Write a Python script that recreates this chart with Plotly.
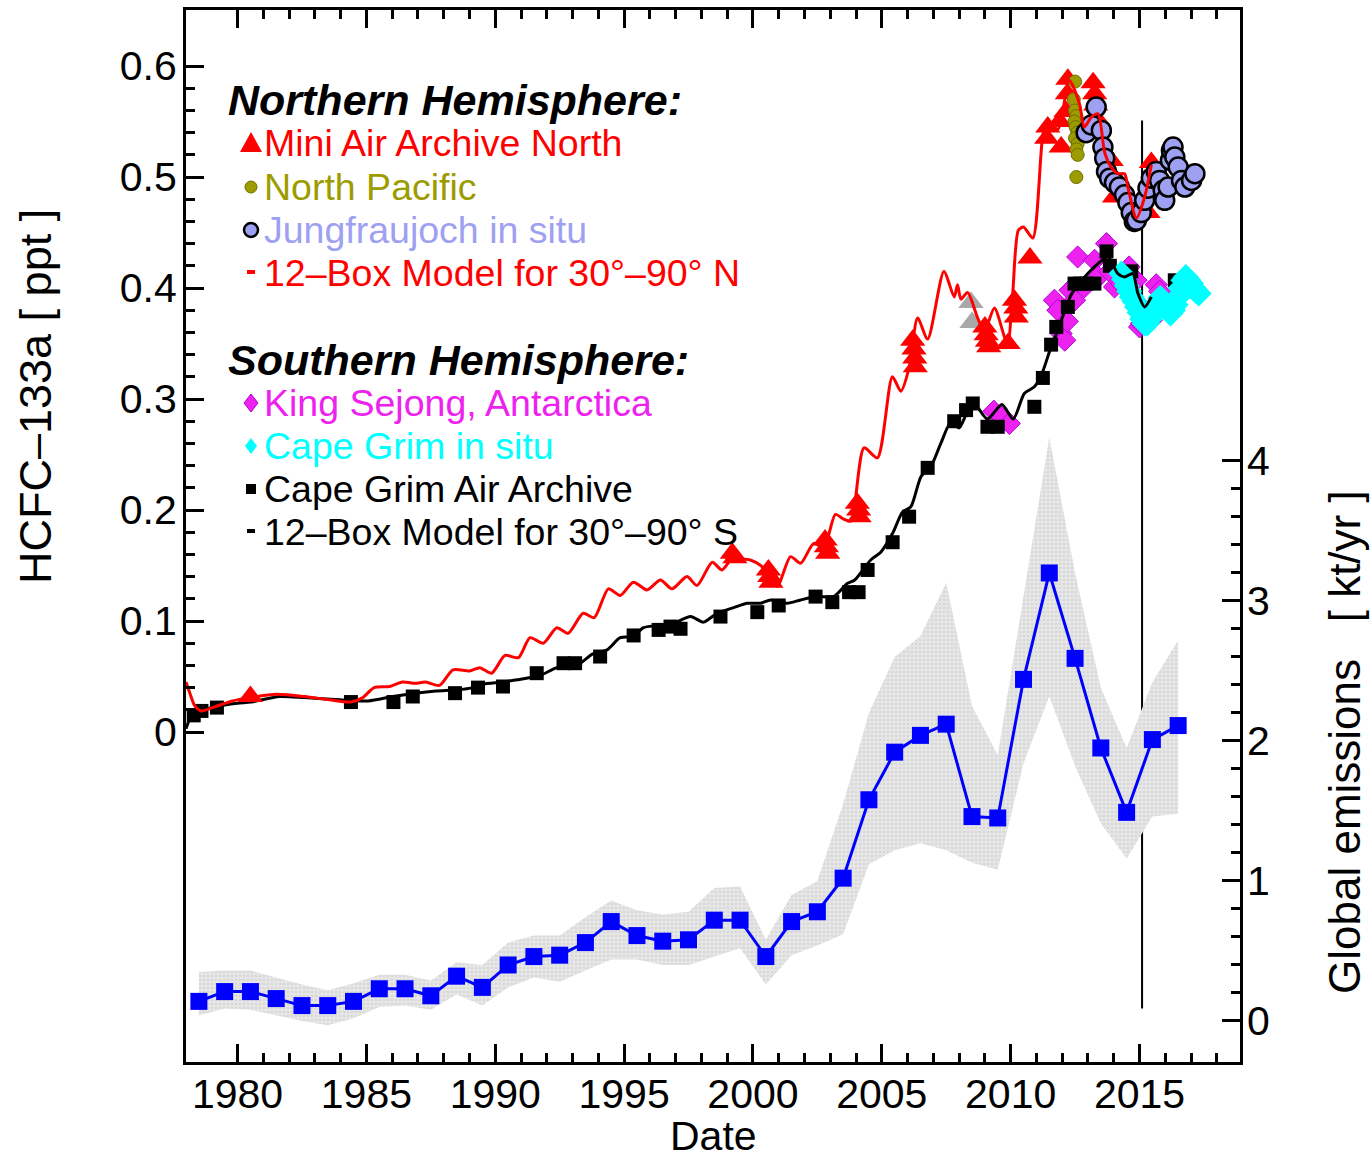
import plotly.graph_objects as go

# ---------------- data ----------------
# 12-box model, 30-90 N (ppt)
nh_model_year = [1978.0, 1978.15, 1978.33, 1978.6, 1979.15, 1979.8, 1980.5, 1981.5, 1982.6, 1983.56,
                 1984.4, 1984.86, 1985.3, 1985.9, 1986.4, 1986.9, 1987.3, 1987.84, 1988.36, 1989.0,
                 1989.4, 1989.86, 1990.38, 1990.9, 1991.35, 1991.86, 1992.39, 1992.83, 1993.41, 1993.84,
                 1994.39, 1994.85, 1995.36, 1995.89, 1996.41, 1996.86, 1997.44, 1997.83, 1998.42, 1998.8,
                 1999.25, 1999.6, 1999.9, 2000.3, 2000.7, 2000.95, 2001.46, 2001.85, 2002.36, 2002.75,
                 2003.2, 2003.5, 2003.8, 2004.31, 2004.83, 2005.41, 2005.74, 2006.06, 2006.39, 2006.78,
                 2007.41, 2007.81, 2007.94, 2008.07, 2008.33, 2008.72, 2008.98, 2009.37, 2009.76, 2009.89,
                 2010.08, 2010.3, 2010.5, 2010.86, 2011.25, 2011.44, 2011.83, 2012.28, 2012.67, 2012.86,
                 2013.13, 2013.39, 2013.65, 2013.9, 2014.16, 2014.42, 2014.55, 2014.88, 2015.2, 2015.46]
nh_model_ppt = [0.045, 0.035, 0.024, 0.019, 0.023, 0.028, 0.031, 0.034, 0.032, 0.029,
                0.027, 0.031, 0.040, 0.041, 0.045, 0.044, 0.045, 0.042, 0.056, 0.055,
                0.058, 0.053, 0.069, 0.067, 0.085, 0.080, 0.094, 0.089, 0.107, 0.103,
                0.129, 0.123, 0.135, 0.128, 0.137, 0.129, 0.140, 0.132, 0.153, 0.146,
                0.158, 0.156, 0.155, 0.150, 0.140, 0.131, 0.158, 0.152, 0.170, 0.166,
                0.196, 0.192, 0.190, 0.256, 0.247, 0.320, 0.307, 0.328, 0.373, 0.354,
                0.415, 0.392, 0.403, 0.390, 0.396, 0.373, 0.361, 0.382, 0.356, 0.350,
                0.395, 0.452, 0.455, 0.445, 0.538, 0.551, 0.543, 0.587, 0.566, 0.545,
                0.554, 0.557, 0.522, 0.509, 0.503, 0.503, 0.491, 0.463, 0.482, 0.511]

# 12-box model, 30-90 S (ppt)
sh_model_year = [1978.0, 1978.15, 1978.33, 1978.7, 1979.15, 1980.0, 1980.53, 1981.63, 1982.6, 1983.96,
                 1985.07, 1986.03, 1986.9, 1987.7, 1988.5, 1989.14, 1989.5, 1990.3, 1990.84, 1991.74,
                 1992.39, 1993.3, 1993.75, 1994.34, 1994.85, 1995.36, 1995.75, 1996.28, 1996.92, 1997.58,
                 1998.08, 1998.61, 1999.25, 1999.78, 2000.3, 2000.69, 2001.33, 2001.85, 2002.5, 2003.13,
                 2003.67, 2003.95, 2004.57, 2004.96, 2005.42, 2005.8, 2006.13, 2006.52, 2006.9, 2007.29,
                 2007.68, 2008.0, 2008.33, 2008.58, 2009.1, 2009.66, 2010.1, 2010.53, 2010.92, 2011.2,
                 2011.57, 2011.83, 2012.35, 2012.8, 2013.39, 2013.78, 2014.16, 2014.42, 2014.74, 2014.94,
                 2015.2, 2015.46]
sh_model_ppt = [0.003, 0.012, 0.017, 0.020, 0.023, 0.026, 0.027, 0.032, 0.031, 0.029,
                0.028, 0.032, 0.035, 0.037, 0.038, 0.040, 0.043, 0.045, 0.047, 0.051,
                0.058, 0.062, 0.070, 0.074, 0.085, 0.086, 0.094, 0.096, 0.098, 0.104,
                0.099, 0.107, 0.112, 0.116, 0.116, 0.119, 0.116, 0.119, 0.122, 0.122,
                0.134, 0.137, 0.155, 0.162, 0.179, 0.198, 0.203, 0.230, 0.239, 0.260,
                0.279, 0.274, 0.289, 0.296, 0.282, 0.295, 0.282, 0.305, 0.311, 0.322,
                0.347, 0.362, 0.394, 0.408, 0.422, 0.428, 0.413, 0.410, 0.413, 0.395,
                0.383, 0.392]

# Mini Air Archive North (red triangles)
maa_north_year = [1980.5, 1999.2, 1999.3, 2000.6, 2000.65, 2000.7, 2002.8, 2002.85, 2002.9,
                  2004.05, 2004.1, 2004.12, 2006.2, 2006.25, 2006.28, 2006.3,
                  2009.0, 2009.05, 2009.1, 2009.15, 2009.9, 2010.15, 2010.2, 2010.22, 2010.75,
                  2011.4, 2011.44, 2011.9, 2011.96, 2012.15, 2012.2, 2012.22,
                  2013.2, 2013.26, 2013.3, 2013.4, 2013.9, 2014.03, 2015.33, 2015.46, 2016.75]
maa_north_ppt = [0.032, 0.161, 0.157, 0.146, 0.140, 0.135, 0.173, 0.167, 0.161,
                 0.206, 0.200, 0.194, 0.353, 0.345, 0.337, 0.329,
                 0.365, 0.358, 0.352, 0.347, 0.350, 0.389, 0.382, 0.374, 0.427,
                 0.535, 0.545, 0.550, 0.527, 0.559, 0.575, 0.588,
                 0.585, 0.575, 0.565, 0.551, 0.515, 0.482, 0.468, 0.513, 0.506]

# grey triangles (Mini Air Archive North, flagged)
maa_grey_year = [2008.46, 2008.5]
maa_grey_ppt = [0.387, 0.369]

# North Pacific (olive circles)
npac_year = [2012.50, 2012.45, 2012.50, 2012.55, 2012.48, 2012.52, 2012.58, 2012.50, 2012.60,
             2012.55, 2012.60, 2012.55]
npac_ppt = [0.586, 0.570, 0.560, 0.555, 0.550, 0.545, 0.540, 0.535, 0.530, 0.525, 0.520, 0.500]

# Jungfraujoch in situ (lavender circles)
jfj_year = [2012.93, 2013.13, 2013.32, 2013.52, 2013.58, 2013.65, 2013.72, 2013.84, 2014.03, 2014.22,
            2014.42, 2014.55, 2014.68, 2014.80, 2014.88, 2015.07, 2015.2, 2015.33, 2015.46, 2015.65,
            2015.78, 2015.92, 2015.98, 2016.11, 2016.2, 2016.24, 2016.3, 2016.37, 2016.5, 2016.63,
            2016.76, 2017.02, 2017.15]
jfj_ppt = [0.540, 0.547, 0.563, 0.542, 0.527, 0.517, 0.505, 0.499, 0.495, 0.491,
           0.484, 0.477, 0.468, 0.460, 0.461, 0.468, 0.479, 0.490, 0.499, 0.505,
           0.497, 0.488, 0.479, 0.491, 0.515, 0.524, 0.527, 0.518, 0.509, 0.497,
           0.491, 0.497, 0.503]

# King Sejong, Antarctica (magenta diamonds)
ksj_year = [2009.35, 2009.45, 2009.63, 2009.95, 2011.7, 2011.83, 2011.96, 2012.1, 2012.2, 2012.3,
            2012.48, 2012.6, 2012.86, 2013.26, 2013.4, 2013.72, 2013.84, 2014.03, 2014.3, 2014.6,
            2014.87, 2014.94, 2015.0, 2015.07, 2015.46, 2015.65, 2015.78]
ksj_ppt = [0.289, 0.281, 0.284, 0.278, 0.389, 0.380, 0.359, 0.353, 0.370, 0.398,
           0.389, 0.428, 0.401, 0.425, 0.410, 0.440, 0.415, 0.401, 0.404, 0.419,
           0.407, 0.386, 0.365, 0.368, 0.371, 0.403, 0.397]

# Cape Grim in situ (cyan diamonds)
cgi_year = [2014.3, 2014.4, 2014.5, 2014.6, 2014.7, 2014.8, 2014.9, 2015.0, 2015.1, 2015.2,
            2015.3, 2015.4, 2015.5, 2015.6, 2015.7, 2015.8, 2015.9, 2016.0, 2016.1, 2016.2,
            2016.3, 2016.4, 2016.5, 2016.6, 2016.7, 2016.8, 2016.9, 2017.0, 2017.1, 2017.2, 2017.3]
cgi_ppt = [0.413, 0.408, 0.402, 0.397, 0.392, 0.388, 0.383, 0.378, 0.372, 0.368,
           0.368, 0.372, 0.377, 0.381, 0.386, 0.391, 0.389, 0.384, 0.380, 0.377,
           0.380, 0.385, 0.392, 0.400, 0.407, 0.410, 0.407, 0.404, 0.400, 0.397, 0.395]

# Cape Grim Air Archive (black squares)
cga_year = [1978.3, 1978.6, 1979.2, 1984.4, 1986.05, 1986.8, 1988.44, 1989.33, 1990.3, 1991.61,
            1992.65, 1993.1, 1994.07, 1995.37, 1996.34, 1996.8, 1997.19, 1998.74, 2000.17, 2001.0,
            2002.43, 2003.08, 2003.73, 2004.1, 2004.45, 2005.42, 2006.06, 2006.78, 2007.81, 2008.27,
            2008.53, 2009.1, 2009.5, 2010.92, 2011.25, 2011.57, 2011.77, 2012.22, 2012.48, 2012.7,
            2012.95, 2013.25, 2013.72, 2013.85, 2014.68, 2016.37]
cga_ppt = [0.015, 0.019, 0.022, 0.027, 0.027, 0.032, 0.035, 0.040, 0.041, 0.053,
           0.062, 0.062, 0.068, 0.087, 0.092, 0.095, 0.093, 0.104, 0.108, 0.114,
           0.122, 0.117, 0.126, 0.126, 0.146, 0.171, 0.194, 0.238, 0.280, 0.290,
           0.296, 0.275, 0.275, 0.293, 0.319, 0.349, 0.365, 0.383, 0.404, 0.404,
           0.404, 0.404, 0.433, 0.420, 0.415, 0.407]

# Global emissions (kt/yr) with uncertainty band
emis_year = [1978.5, 1979.5, 1980.5, 1981.5, 1982.5, 1983.5, 1984.5, 1985.5, 1986.5, 1987.5,
             1988.5, 1989.5, 1990.5, 1991.5, 1992.5, 1993.5, 1994.5, 1995.5, 1996.5, 1997.5,
             1998.5, 1999.5, 2000.5, 2001.5, 2002.5, 2003.5, 2004.5, 2005.5, 2006.5, 2007.5,
             2008.5, 2009.5, 2010.5, 2011.5, 2012.5, 2013.5, 2014.5, 2015.5, 2016.5]
emis_kt = [0.14, 0.21, 0.21, 0.16, 0.11, 0.11, 0.14, 0.23, 0.23, 0.18,
           0.32, 0.24, 0.40, 0.46, 0.47, 0.56, 0.71, 0.61, 0.57, 0.58,
           0.72, 0.72, 0.46, 0.71, 0.78, 1.02, 1.58, 1.92, 2.04, 2.12,
           1.46, 1.45, 2.44, 3.20, 2.59, 1.95, 1.49, 2.01, 2.11]
emis_upper = [0.35, 0.36, 0.36, 0.31, 0.26, 0.22, 0.27, 0.33, 0.33, 0.29,
              0.42, 0.40, 0.56, 0.61, 0.61, 0.74, 0.86, 0.79, 0.76, 0.78,
              0.95, 0.96, 0.58, 0.90, 1.00, 1.55, 2.20, 2.60, 2.75, 3.13,
              2.25, 1.90, 3.05, 4.17, 3.20, 2.38, 1.95, 2.42, 2.72]
emis_lower = [0.04, 0.09, 0.08, 0.04, 0.00, -0.03, 0.02, 0.10, 0.11, 0.08,
              0.19, 0.11, 0.24, 0.31, 0.28, 0.36, 0.44, 0.44, 0.40, 0.40,
              0.46, 0.52, 0.26, 0.47, 0.54, 0.62, 1.12, 1.22, 1.27, 1.22,
              1.13, 1.08, 1.84, 2.32, 1.82, 1.41, 1.16, 1.46, 1.48]

# vertical marker line
vline_year = [2015.1, 2015.1]
vline_ppt = [-0.249, 0.551]

# axis ticks
x_major = [1980, 1985, 1990, 1995, 2000, 2005, 2010, 2015]
x_minor = [y for y in range(1981, 2019) if y % 5 != 0]
ppt_major = [0.0, 0.1, 0.2, 0.3, 0.4, 0.5, 0.6]
ppt_labels = ['0', '0.1', '0.2', '0.3', '0.4', '0.5', '0.6']
ppt_minor = [round(0.02 * i, 2) for i in range(1, 30) if i % 5 != 0]
kt_major = [0, 1, 2, 3, 4]
kt_minor = [round(0.2 * i, 1) for i in range(1, 20) if i % 5 != 0]

# ---------------- figure ----------------
FONT = 'Liberation Sans, Arial, Helvetica, sans-serif'
RED = '#ff0000'
OLIVE = '#9c9c00'
LAV = '#9ea0f2'
MAG = '#ee22ee'
CYAN = '#00ffff'
BLUE = '#0000ff'

fig = go.Figure()

# emissions band & line (right axis)
fig.add_trace(go.Scatter(x=emis_year, y=emis_lower, yaxis='y2', mode='lines',
                         line=dict(width=0, color='rgba(0,0,0,0)'), showlegend=False, hoverinfo='skip'))
fig.add_trace(go.Scatter(x=emis_year, y=emis_upper, yaxis='y2', mode='lines', fill='tonexty',
                         fillcolor='#e0e0e0',
                         fillpattern=dict(shape='.', bgcolor='#e6e6e6', fgcolor='#c8c8c8', size=4, solidity=0.35),
                         line=dict(width=0, color='rgba(0,0,0,0)'), showlegend=False, hoverinfo='skip'))
fig.add_trace(go.Scatter(x=emis_year, y=emis_kt, yaxis='y2', mode='lines+markers',
                         line=dict(color=BLUE, width=3),
                         marker=dict(symbol='square', size=17, color=BLUE),
                         name='Global emissions', showlegend=False))

# vertical line
fig.add_trace(go.Scatter(x=vline_year, y=vline_ppt, mode='lines', line=dict(color='black', width=2),
                         showlegend=False, hoverinfo='skip'))

# Southern hemisphere
fig.add_trace(go.Scatter(x=ksj_year, y=ksj_ppt, mode='markers',
                         marker=dict(symbol='diamond', size=17, color=MAG, line=dict(color='#b400d8', width=1)),
                         name='King Sejong, Antarctica', showlegend=False))
fig.add_trace(go.Scatter(x=cga_year, y=cga_ppt, mode='markers',
                         marker=dict(symbol='square', size=14, color='black'),
                         name='Cape Grim Air Archive', showlegend=False))
fig.add_trace(go.Scatter(x=cgi_year, y=cgi_ppt, mode='markers',
                         marker=dict(symbol='diamond', size=20, color=CYAN),
                         name='Cape Grim in situ', showlegend=False))
fig.add_trace(go.Scatter(x=sh_model_year, y=sh_model_ppt, mode='lines',
                         line=dict(color='black', width=3, shape='spline', smoothing=0.7),
                         name='12-Box Model S', showlegend=False))

# Northern hemisphere
fig.add_trace(go.Scatter(x=maa_grey_year, y=maa_grey_ppt, mode='markers',
                         marker=dict(symbol='triangle-up', size=22, color='#a8a8a8'), showlegend=False))
fig.add_trace(go.Scatter(x=maa_north_year, y=maa_north_ppt, mode='markers',
                         marker=dict(symbol='triangle-up', size=22, color=RED),
                         name='Mini Air Archive North', showlegend=False))
fig.add_trace(go.Scatter(x=npac_year, y=npac_ppt, mode='markers',
                         marker=dict(symbol='circle', size=13, color=OLIVE, line=dict(color='#6e6e00', width=1)),
                         name='North Pacific', showlegend=False))
fig.add_trace(go.Scatter(x=jfj_year, y=jfj_ppt, mode='markers',
                         marker=dict(symbol='circle', size=19, color=LAV, line=dict(color='black', width=2.5)),
                         name='Jungfraujoch in situ', showlegend=False))
fig.add_trace(go.Scatter(x=nh_model_year, y=nh_model_ppt, mode='lines',
                         line=dict(color=RED, width=3, shape='spline', smoothing=0.7),
                         name='12-Box Model N', showlegend=False))

# ---------------- layout helpers (page pixels -> paper) ----------------
OFF = 0                      # body margin removed by post_script
W, H = 1372, 1161
L, T = 186, 10
PW, PH = 1054, 1052
R, B = W - L - PW, H - T - PH


def px(xpage):
    return (xpage - OFF - L) / PW


def py(ypage):
    return (T + PH - (ypage - OFF)) / PH


legend_rows = [
    ('<b><i>Northern Hemisphere:</i></b>', 'black', 100, 43, 226),
    ('Mini Air Archive North', RED, 143, 37.5, 262),
    ('North Pacific', OLIVE, 187, 37.5, 262),
    ('Jungfraujoch in situ', LAV, 230, 37.5, 262),
    ('12–Box Model for 30°–90° N', RED, 273, 37.5, 262),
    ('<b><i>Southern Hemisphere:</i></b>', 'black', 360, 43, 226),
    ('King Sejong, Antarctica', MAG, 403, 37.5, 262),
    ('Cape Grim in situ', CYAN, 446, 37.5, 262),
    ('Cape Grim Air Archive', 'black', 489, 37.5, 262),
    ('12–Box Model for 30°–90° S', 'black', 532, 37.5, 262),
]
annotations = []
for txt, col, yc, fs, xl in legend_rows:
    annotations.append(dict(text=txt, x=px(xl), y=py(yc), xref='paper', yref='paper',
                            xanchor='left', yanchor='middle', showarrow=False,
                            font=dict(family=FONT, size=fs, color=col)))

# axis titles placed like the original (centred on their own scale ranges)
annotations.append(dict(text='HCFC–133a [ ppt ]', x=px(35), y=py(397), xref='paper', yref='paper',
                        xanchor='center', yanchor='middle', textangle=-90, showarrow=False,
                        font=dict(family=FONT, size=45, color='black')))
annotations.append(dict(text='Global emissions\u00a0\u00a0\u00a0[ kt/yr ]', x=px(1344), y=py(742),
                        xref='paper', yref='paper', xanchor='center', yanchor='middle',
                        textangle=-90, showarrow=False,
                        font=dict(family=FONT, size=44, color='black')))
annotations.append(dict(text='Date', x=px(713), y=py(1136), xref='paper', yref='paper',
                        xanchor='center', yanchor='middle', showarrow=False,
                        font=dict(family=FONT, size=41, color='black')))

shapes = []
cx = 251
shapes.append(dict(type='path', xref='paper', yref='paper',
                   path=f'M {px(cx-11)} {py(152)} L {px(cx+11)} {py(152)} L {px(cx)} {py(132)} Z',
                   fillcolor=RED, line=dict(width=0)))
shapes.append(dict(type='circle', xref='paper', yref='paper', x0=px(cx-6), x1=px(cx+6), y0=py(193), y1=py(181),
                   fillcolor=OLIVE, line=dict(color='#6e6e00', width=1)))
shapes.append(dict(type='circle', xref='paper', yref='paper', x0=px(cx-7), x1=px(cx+7), y0=py(237), y1=py(223),
                   fillcolor=LAV, line=dict(color='black', width=2.5)))
shapes.append(dict(type='rect', xref='paper', yref='paper', x0=px(cx-4), x1=px(cx+4), y0=py(274), y1=py(270),
                   fillcolor=RED, line=dict(width=0)))
shapes.append(dict(type='path', xref='paper', yref='paper',
                   path=f'M {px(cx)} {py(394)} L {px(cx+7)} {py(403)} L {px(cx)} {py(412)} L {px(cx-7)} {py(403)} Z',
                   fillcolor=MAG, line=dict(color='#b400d8', width=1)))
shapes.append(dict(type='path', xref='paper', yref='paper',
                   path=f'M {px(cx)} {py(438)} L {px(cx+6)} {py(446)} L {px(cx)} {py(454)} L {px(cx-6)} {py(446)} Z',
                   fillcolor=CYAN, line=dict(width=0)))
shapes.append(dict(type='rect', xref='paper', yref='paper', x0=px(cx-5), x1=px(cx+5), y0=py(494), y1=py(484),
                   fillcolor='black', line=dict(width=0)))
shapes.append(dict(type='rect', xref='paper', yref='paper', x0=px(cx-4), x1=px(cx+4), y0=py(533), y1=py(529),
                   fillcolor='black', line=dict(width=0)))

tick_common = dict(ticks='inside', ticklen=18, tickwidth=3, tickcolor='black',
                   showgrid=False, zeroline=False)

fig.update_layout(
    width=W, height=H,
    margin=dict(l=L, r=R, t=T, b=B, autoexpand=False),
    paper_bgcolor='white', plot_bgcolor='white',
    font=dict(family=FONT, size=41, color='black'),
    showlegend=False,
    annotations=annotations,
    shapes=shapes,
    xaxis=dict(range=[1978.0, 2018.9], tickmode='array', tickvals=x_major,
               ticktext=[str(v) for v in x_major],
               showline=True, linewidth=3, linecolor='black', mirror='ticks',
               minor=dict(tickmode='array', tickvals=x_minor, ticks='inside', ticklen=9,
                          tickwidth=3, tickcolor='black'),
               tickfont=dict(size=41), ticklabelstandoff=-6,
               **tick_common),
    yaxis=dict(range=[-0.2973, 0.6505], tickmode='array', tickvals=ppt_major, ticktext=ppt_labels,
               showline=True, linewidth=3, linecolor='black', mirror=True,
               minor=dict(tickmode='array', tickvals=ppt_minor, ticks='inside', ticklen=9,
                          tickwidth=3, tickcolor='black'),
               tickfont=dict(size=41), ticklabelstandoff=-2,
               **tick_common),
    yaxis2=dict(range=[-0.293, 7.221], overlaying='y', side='right', anchor='x',
                tickmode='array', tickvals=kt_major, ticktext=[str(v) for v in kt_major],
                showline=False,
                minor=dict(tickmode='array', tickvals=kt_minor, ticks='inside', ticklen=9,
                           tickwidth=3, tickcolor='black'),
                tickfont=dict(size=41), ticklabelstandoff=6,
                **tick_common),
)

fig.write_html("out.html",
               config={'displayModeBar': False},
               post_script="document.body.style.margin='0px';document.body.style.overflow='hidden';")
